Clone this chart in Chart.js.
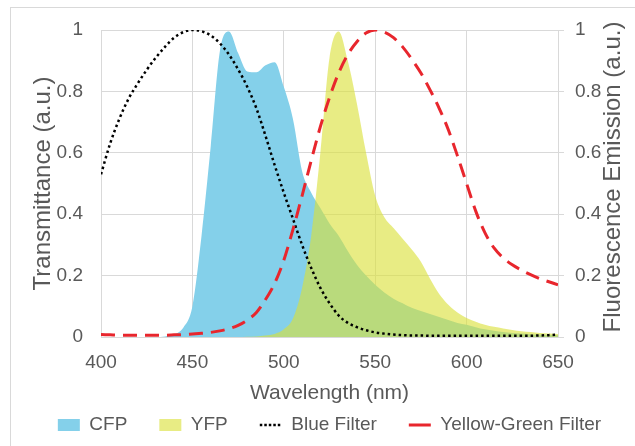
<!DOCTYPE html>
<html>
<head>
<meta charset="utf-8">
<title>CFP / YFP spectra</title>
<script src="https://cdn.jsdelivr.net/npm/chart.js@4.4.1/dist/chart.umd.min.js"></script>
<style>
  html, body { margin: 0; padding: 0; background: #fff; }
  #wrap { position: relative; width: 635px; height: 446px; }
  #chart { display: block; }
  #frame {
    position: absolute; left: 10px; top: 7px; right: 0; bottom: 0;
    border-left: 1px solid #d9d9d9; border-top: 1px solid #d9d9d9;
    pointer-events: none;
  }
</style>
</head>
<body>
<div id="wrap">
  <canvas id="chart" width="635" height="446"></canvas>
  <div id="frame"></div>
</div>
<script>
// Wavelength grid (nm), 5 nm steps
const wavelengths = [
  400, 405, 410, 415, 420, 425, 430, 435, 440, 445,
  450, 455, 460, 465, 470, 475, 480, 485, 490, 495,
  500, 505, 510, 515, 520, 525, 530, 535, 540, 545,
  550, 555, 560, 565, 570, 575, 580, 585, 590, 595,
  600, 605, 610, 615, 620, 625, 630, 635, 640, 645, 650
];

// CFP emission (right axis)
const cfp = [
  0, 0, 0, 0, 0, 0, 0, 0.002, 0.008, 0.03,
  0.1, 0.33, 0.62, 0.93, 0.995, 0.925, 0.865, 0.862, 0.885, 0.895,
  0.815, 0.71, 0.54, 0.47, 0.42, 0.37, 0.33, 0.28, 0.235, 0.2,
  0.17, 0.145, 0.125, 0.11, 0.095, 0.085, 0.075, 0.065, 0.055, 0.046,
  0.04, 0.032, 0.025, 0.02, 0.016, 0.013, 0.011, 0.009, 0.008, 0.007, 0.006
];

// YFP emission (right axis)
const yfp = [
  0, 0, 0, 0, 0, 0, 0, 0, 0, 0,
  0, 0, 0, 0, 0, 0, 0.001, 0.002, 0.005, 0.01,
  0.025, 0.06, 0.16, 0.33, 0.6, 0.91, 0.995, 0.9, 0.76, 0.6,
  0.46, 0.39, 0.355, 0.32, 0.285, 0.245, 0.19, 0.14, 0.105, 0.08,
  0.062, 0.05, 0.04, 0.033, 0.028, 0.023, 0.019, 0.016, 0.013, 0.011, 0.01
];

// Blue filter transmittance (left axis)
const blueFilter = [
  0.53, 0.63, 0.71, 0.775, 0.825, 0.87, 0.91, 0.945, 0.975, 0.993,
  1.0, 0.996, 0.982, 0.957, 0.92, 0.872, 0.815, 0.745, 0.655, 0.56,
  0.47, 0.385, 0.3, 0.225, 0.16, 0.11, 0.07, 0.046, 0.032, 0.022,
  0.015, 0.011, 0.008, 0.006, 0.005, 0.005, 0.004, 0.004, 0.004, 0.004,
  0.004, 0.004, 0.004, 0.004, 0.004, 0.004, 0.004, 0.004, 0.005, 0.006, 0.008
];

// Yellow-green filter transmittance (left axis)
const yellowGreenFilter = [
  0.008, 0.007, 0.006, 0.006, 0.006, 0.006, 0.006, 0.006, 0.007, 0.008,
  0.01, 0.012, 0.015, 0.02, 0.027, 0.038, 0.055, 0.08, 0.122, 0.175,
  0.25, 0.35, 0.46, 0.575, 0.685, 0.78, 0.86, 0.92, 0.962, 0.99,
  1.0, 0.993, 0.975, 0.945, 0.905, 0.86, 0.805, 0.745, 0.675, 0.59,
  0.5, 0.41, 0.34, 0.29, 0.258, 0.235, 0.218, 0.203, 0.19, 0.18, 0.17
];

const xTicks = [400, 450, 500, 550, 600, 650];
const yTicks = [0, 0.2, 0.4, 0.6, 0.8, 1];
const yTickLabels = ['0', '0.2', '0.4', '0.6', '0.8', '1'];

const seriesNames = ['CFP', 'YFP', 'Blue Filter', 'Yellow-Green Filter'];
const xTitle = 'Wavelength (nm)';
const leftTitle = 'Transmittance (a.u.)';
const rightTitle = 'Fluorescence Emission (a.u.)';

const font = '"Liberation Sans", Arial, sans-serif';
const textColor = '#595959';
const gridColor = '#d9d9d9';

const cfpColor = 'rgb(132, 208, 234)';
const yfpColor = 'rgba(218, 224, 56, 0.62)';
const redColor = '#e8262d';

function points(values) {
  return wavelengths.map((w, i) => ({ x: w, y: values[i] }));
}

function yLabel(value, index) {
  return yTickLabels[index];
}

// right axis title reads bottom-to-top like the left one, so draw it here
const rightTitlePlugin = {
  id: 'rightTitle',
  afterDraw(chart) {
    const ctx = chart.ctx;
    ctx.save();
    ctx.translate(613, 177);
    ctx.rotate(-Math.PI / 2);
    ctx.font = '24px ' + font;
    ctx.fillStyle = textColor;
    ctx.textAlign = 'center';
    ctx.textBaseline = 'middle';
    ctx.fillText(rightTitle, 0, 0);
    ctx.restore();
  }
};

const ctx = document.getElementById('chart').getContext('2d');
new Chart(ctx, {
  type: 'line',
  data: {
    datasets: [
      {
        label: seriesNames[0],
        data: points(cfp),
        yAxisID: 'y2',
        fill: 'origin',
        backgroundColor: cfpColor,
        borderWidth: 0,
        order: 4
      },
      {
        label: seriesNames[1],
        data: points(yfp),
        yAxisID: 'y2',
        fill: 'origin',
        backgroundColor: yfpColor,
        borderWidth: 0,
        order: 3
      },
      {
        label: seriesNames[2],
        data: points(blueFilter),
        yAxisID: 'y',
        fill: false,
        borderColor: '#000',
        borderWidth: 2.5,
        borderDash: [2.5, 3],
        order: 2
      },
      {
        label: seriesNames[3],
        data: points(yellowGreenFilter),
        yAxisID: 'y',
        fill: false,
        borderColor: redColor,
        borderWidth: 3,
        borderDash: [14, 8],
        order: 1
      }
    ]
  },
  options: {
    responsive: false,
    devicePixelRatio: 1,
    animation: false,
    layout: { padding: { left: 24, right: 0, top: 30, bottom: 1.5 } },
    elements: {
      point: { radius: 0 },
      line: { cubicInterpolationMode: 'monotone' }
    },
    plugins: {
      tooltip: { enabled: false },
      legend: {
        position: 'bottom',
        labels: {
          usePointStyle: true,
          pointStyleWidth: 22,
          boxHeight: 12,
          padding: 32,
          color: textColor,
          font: { family: font, size: 19 },
          generateLabels(chart) {
            return chart.data.datasets.map((ds, i) => {
              const filled = ds.fill === 'origin';
              return {
                text: ds.label,
                datasetIndex: i,
                fillStyle: filled ? ds.backgroundColor : 'transparent',
                strokeStyle: filled ? 'transparent' : ds.borderColor,
                lineWidth: filled ? 0 : ds.borderWidth,
                lineDash: i === 2 ? [2.5, 2] : [],
                pointStyle: filled ? 'rect' : 'line',
                fontColor: textColor,
                hidden: false
              };
            });
          }
        }
      }
    },
    scales: {
      x: {
        type: 'linear',
        min: xTicks[0],
        max: xTicks[xTicks.length - 1],
        afterBuildTicks(scale) { scale.ticks = xTicks.map(v => ({ value: v })); },
        afterFit(scale) { scale.height = 46.5; },
        grid: { color: gridColor, drawTicks: false },
        border: { color: gridColor },
        ticks: { color: textColor, font: { family: font, size: 19 }, padding: 14, maxRotation: 0 },
        title: {
          display: true, text: xTitle, color: textColor,
          font: { family: font, size: 21, lineHeight: 1 },
          padding: { top: 0, bottom: -20 }
        }
      },
      y: {
        position: 'left',
        min: 0,
        max: 1,
        afterBuildTicks(scale) { scale.ticks = yTicks.map(v => ({ value: v })); },
        afterFit(scale) { scale.width = 77; },
        grid: { color: gridColor, drawTicks: false },
        border: { color: gridColor },
        ticks: { color: textColor, font: { family: font, size: 19 }, padding: 18, callback: yLabel },
        title: {
          display: true, text: leftTitle, color: textColor,
          font: { family: font, size: 24, lineHeight: 1 },
          padding: { top: 7, bottom: 0 }
        }
      },
      y2: {
        position: 'right',
        min: 0,
        max: 1,
        afterBuildTicks(scale) { scale.ticks = yTicks.map(v => ({ value: v })); },
        afterFit(scale) { scale.width = 77; },
        grid: { color: gridColor, drawOnChartArea: false, tickLength: 6 },
        border: { color: gridColor },
        ticks: { color: textColor, font: { family: font, size: 19 }, padding: 11, callback: yLabel }
      }
    }
  },
  plugins: [rightTitlePlugin]
});
</script>
</body>
</html>
